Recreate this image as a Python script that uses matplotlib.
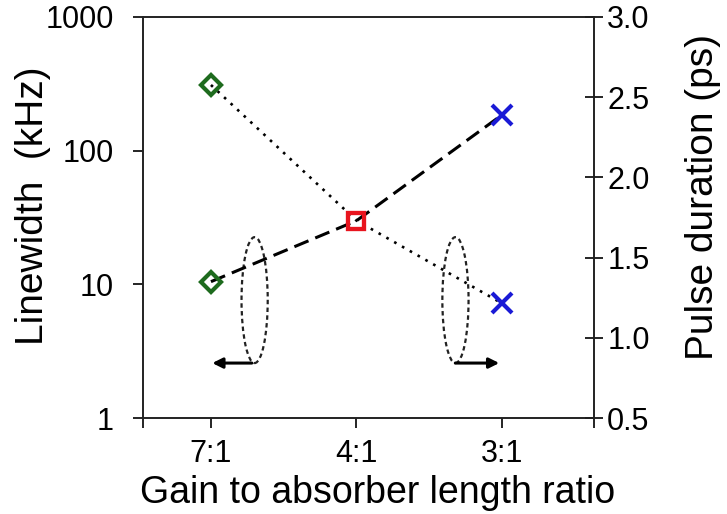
import matplotlib
matplotlib.use("Agg")
import matplotlib.pyplot as plt
from matplotlib.patches import Ellipse
from matplotlib.ticker import FixedLocator, NullFormatter

# data
ratios = ['7:1', '4:1', '3:1']
linewidth_khz = [310, 30, 7.2]
pulse_ps = [1.35, 1.73, 2.39]

marker_colors = ['#1e6b1e', '#e8141e', '#1a1ad6']
marker_shapes = ['D', 's', 'x']

plt.rcParams['font.family'] = ['Liberation Sans', 'DejaVu Sans']

fig = plt.figure(figsize=(7.27, 5.14), dpi=100)
ax = fig.add_axes([143 / 727, 96 / 514, 451 / 727, 401 / 514])
ax2 = ax.twinx()

x = list(range(len(ratios)))


def draw_markers(a, ys):
    for xi, yi, c, m in zip(x, ys, marker_colors, marker_shapes):
        if m == 'x':
            a.plot(xi, yi, marker=m, ms=14, mew=3, color=c, zorder=3)
        elif m == 's':
            a.plot(xi, yi, marker=m, ms=12, mfc='none', mew=3, mec=c, zorder=3)
        else:
            a.plot(xi, yi, marker=m, ms=10, mfc='none', mew=3, mec=c, zorder=3)


# linewidth (left, log)
ax.plot(x, linewidth_khz, color='black', linestyle=(0, (1, 2.4)), lw=1.9, zorder=2)
draw_markers(ax, linewidth_khz)

# pulse duration (right)
ax2.plot(x, pulse_ps, color='black', linestyle=(0, (5, 2.4)), lw=2.2, zorder=2)
draw_markers(ax2, pulse_ps)

ax.set_yscale('log')
ax.set_ylim(1, 1000)
ax.set_xlim(-0.467, 2.632)
ax2.set_ylim(0.5, 3.0)

ax.set_xticks(x)
ax.set_xticklabels(ratios)
ax.xaxis.set_minor_locator(FixedLocator([-0.467, 2.632]))
ax.xaxis.set_minor_formatter(NullFormatter())
ax.tick_params(axis='x', which='both', direction='out', length=7, width=1.2, labelsize=22, pad=8)

ax.set_yticks([1, 10, 100, 1000])
ax.set_yticklabels(['1', '10', '100', '1000'])
ax.yaxis.set_minor_locator(FixedLocator([]))
ax.tick_params(axis='y', direction='out', length=7, width=1.2, labelsize=22, pad=14)

ax2.set_yticks([0.5, 1.0, 1.5, 2.0, 2.5, 3.0])
ax2.set_yticklabels(['0.5', '1.0', '1.5', '2.0', '2.5', '3.0'])
ax2.tick_params(axis='y', direction='inout', length=13, width=1.2, labelsize=22, pad=3)

ax.set_ylabel('Linewidth  (kHz)', fontsize=28)
ax.yaxis.set_label_coords(-0.204, 0.53)
ax2.set_ylabel('Pulse duration (ps)', fontsize=28)
ax2.yaxis.set_label_coords(1.202, 0.55)
ax.set_xlabel('Gain to absorber length ratio', fontsize=27)
ax.xaxis.set_label_coords(0.521, -0.142)

for a in (ax, ax2):
    for s in a.spines.values():
        s.set_linewidth(1.2)
        s.set_color('#222222')

# ellipses and arrows marking which axis each curve uses
bt = ax.get_xaxis_transform()
for cx in (0.30, 1.68):
    ax.add_patch(Ellipse((cx, 0.294), 0.18, 0.314, transform=bt, fill=False,
                         ec='#222222', lw=1.6, linestyle=(0, (2, 1.5)), zorder=1))
ax.annotate('', xy=(-0.01, 0.137), xytext=(0.30, 0.137), xycoords=bt, textcoords=bt,
            arrowprops=dict(arrowstyle='-|>', color='black', lw=2.2, mutation_scale=15))
ax.annotate('', xy=(2.0, 0.137), xytext=(1.66, 0.137), xycoords=bt, textcoords=bt,
            arrowprops=dict(arrowstyle='-|>', color='black', lw=2.2, mutation_scale=15))

fig.savefig('out.png', dpi=100)
